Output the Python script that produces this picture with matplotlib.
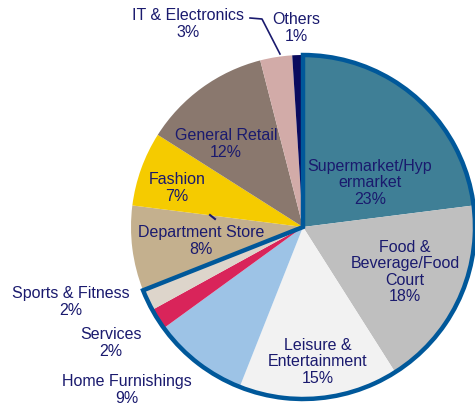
import matplotlib
matplotlib.use("Agg")
import matplotlib.pyplot as plt
from matplotlib.patches import Wedge
import numpy as np

plt.rcParams['font.family'] = ['Liberation Sans', 'DejaVu Sans']

# 数据
categories = ['Supermarket/Hyp\nermarket', 'Food &\nBeverage/Food\nCourt', 'Leisure &\nEntertainment',
              'Home Furnishings', 'Services', 'Sports & Fitness', 'Department Store', 'Fashion',
              'General Retail', 'IT & Electronics', 'Others']
shares = [23, 18, 15, 9, 2, 2, 8, 7, 12, 3, 1]
colors = ['#3F7F96', '#BFBFBF', '#F2F2F2', '#9DC3E6', '#D9245A', '#DDD5CB',
          '#C4B08E', '#F5CB00', '#8A786E', '#D2ABA8', '#0A0A5E']
n_outlined = 6  # 蓝框包住前6块

# 标签位置 (像素, 左上为原点)
label_px = [(370, 183), (405, 272), (318, 362), (127, 390), (111, 343), (71, 302),
            (201, 241), (177, 188), (226, 144), (188, 24), (296, 28)]

W, H = 475, 408
cx, cy, R = 303, 227, 172
text_color = '#1A1A6E'


def px(x, y):
    return (x - cx) / R, (cy - y) / R


fig = plt.figure(figsize=(W / 100, H / 100), dpi=100)
ax = fig.add_axes([0, 0, 1, 1])
ax.pie(shares, colors=colors, startangle=90, counterclock=False,
       wedgeprops=dict(linewidth=0))
ax.set_xlim(-cx / R, (W - cx) / R)
ax.set_ylim(-(H - cy) / R, cy / R)
ax.axis('off')

# 蓝色外框
frac = sum(shares[:n_outlined]) / sum(shares)
ax.add_patch(Wedge((0, 0), 1.0, 90 - frac * 360, 90, fill=False,
                   edgecolor='#00589A', linewidth=3.2, joinstyle='miter'))

for name, v, (x, y) in zip(categories, shares, label_px):
    tx, ty = px(x, y)
    ax.text(tx, ty, f'{name}\n{v}%', ha='center', va='center', fontsize=11.5,
            color=text_color, linespacing=1.1)

# 引导线
lx, ly = zip(*[px(250, 18), px(262, 19), px(280, 54)])
ax.plot(lx, ly, color=text_color, lw=1.2)
tx, ty = zip(*[px(210, 215), px(215, 219)])
ax.plot(tx, ty, color=text_color, lw=1.5)

fig.savefig('out.png', dpi=100)
plt.close()
